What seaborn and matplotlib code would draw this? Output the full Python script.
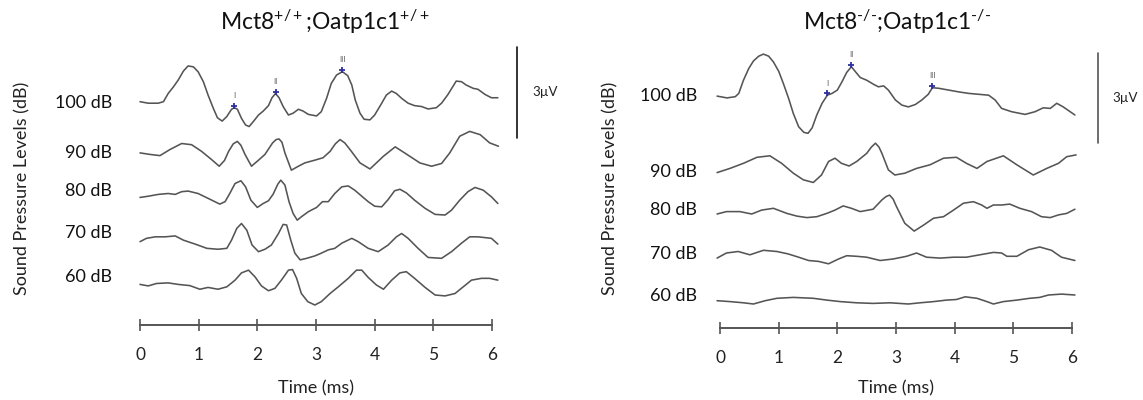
import numpy as np
import pandas as pd
import matplotlib
matplotlib.use("Agg")
import matplotlib.pyplot as plt
import seaborn as sns

sns.set_style("white")
plt.rcParams["font.family"] = ["Lato", "DejaVu Sans"]
plt.rcParams["mathtext.fontset"] = "custom"
plt.rcParams["mathtext.rm"] = "Lato"
plt.rcParams["mathtext.it"] = "Lato"

levels = ["100 dB", "90 dB", "80 dB", "70 dB", "60 dB"]

# ---- wild type (Mct8+/+;Oatp1c1+/+) ABR traces: time (ms), amplitude (uV)
t_wt_100 = [0.0, 0.14, 0.31, 0.40, 0.48, 0.57, 0.65, 0.74, 0.82, 0.91, 0.99, 1.08, 1.16, 1.25, 1.32, 1.40,
            1.48, 1.56, 1.61, 1.66, 1.73, 1.80, 1.86, 1.93, 2.02, 2.10, 2.19, 2.25, 2.31, 2.37, 2.44, 2.53,
            2.61, 2.70, 2.78, 2.87, 3.01, 3.09, 3.18, 3.26, 3.35, 3.45, 3.54, 3.61, 3.67, 3.75, 3.82, 3.92,
            4.00, 4.12, 4.20, 4.29, 4.37, 4.46, 4.57, 4.68, 4.80, 4.91, 5.05, 5.14, 5.25, 5.39, 5.48, 5.56,
            5.68, 5.76, 5.88, 5.99, 6.10]
uv_wt_100 = [0.0, -0.05, -0.05, 0.0, 0.27, 0.49, 0.71, 1.01, 1.18, 1.15, 0.99, 0.66, 0.22, -0.22, -0.53, -0.64,
             -0.49, -0.25, -0.20, -0.25, -0.55, -0.77, -0.82, -0.66, -0.44, -0.31, -0.13, 0.13, 0.27, 0.13, -0.16, -0.44,
             -0.38, -0.25, -0.31, -0.42, -0.47, -0.33, 0.11, 0.60, 0.88, 0.99, 0.86, 0.55, 0.05, -0.38, -0.58, -0.60,
             -0.44, -0.05, 0.22, 0.35, 0.27, 0.11, -0.05, -0.13, -0.16, -0.24, -0.20, -0.05, 0.24, 0.68, 0.66, 0.55,
             0.44, 0.41, 0.24, 0.13, 0.13]

t_wt_90 = [0.0, 0.17, 0.34, 0.51, 0.71, 0.88, 1.05, 1.22, 1.35, 1.44, 1.51, 1.59, 1.66, 1.72, 1.79, 1.90,
           2.02, 2.13, 2.26, 2.32, 2.37, 2.42, 2.47, 2.58, 2.70, 2.81, 2.98, 3.12, 3.24, 3.33, 3.41, 3.49,
           3.58, 3.75, 3.92, 4.15, 4.35, 4.55, 4.77, 4.97, 5.14, 5.28, 5.45, 5.62, 5.80, 5.96, 6.11]
uv_wt_90 = [0.0, -0.05, -0.09, 0.11, 0.31, 0.27, 0.05, -0.22, -0.44, -0.25, 0.05, 0.30, 0.38, 0.25, -0.05, -0.44,
            -0.24, -0.05, 0.33, 0.44, 0.46, 0.35, 0.0, -0.57, -0.44, -0.33, -0.24, -0.16, 0.05, 0.30, 0.44, 0.33,
            0.11, -0.33, -0.53, -0.11, 0.20, -0.05, -0.33, -0.44, -0.35, 0.0, 0.55, 0.71, 0.60, 0.33, 0.22]

t_wt_80 = [0.0, 0.14, 0.31, 0.48, 0.60, 0.71, 0.82, 0.99, 1.16, 1.36, 1.45, 1.53, 1.62, 1.72, 1.80, 1.89,
           2.00, 2.10, 2.19, 2.27, 2.35, 2.40, 2.47, 2.54, 2.61, 2.68, 2.75, 2.87, 3.01, 3.11, 3.21, 3.32,
           3.44, 3.55, 3.66, 3.78, 3.89, 4.00, 4.12, 4.23, 4.34, 4.43, 4.54, 4.68, 4.86, 5.03, 5.20, 5.31,
           5.45, 5.59, 5.71, 5.85, 5.99, 6.10]
uv_wt_80 = [0.0, 0.04, 0.10, 0.13, 0.10, 0.19, 0.21, 0.13, -0.03, -0.22, -0.14, 0.13, 0.46, 0.55, 0.35, -0.09,
            -0.33, -0.20, -0.11, 0.11, 0.44, 0.57, 0.41, -0.14, -0.53, -0.75, -0.64, -0.47, -0.33, -0.14, -0.14, 0.13,
            0.35, 0.38, 0.24, 0.04, -0.14, -0.29, -0.31, -0.07, 0.22, 0.27, 0.15, -0.09, -0.36, -0.56, -0.58, -0.42,
            -0.09, 0.19, 0.33, 0.24, 0.02, -0.20]

t_wt_70 = [0.0, 0.11, 0.26, 0.43, 0.60, 0.74, 0.94, 1.14, 1.33, 1.48, 1.56, 1.65, 1.73, 1.82, 1.91, 2.02,
           2.13, 2.24, 2.36, 2.44, 2.50, 2.57, 2.64, 2.73, 2.84, 2.98, 3.09, 3.21, 3.32, 3.44, 3.61, 3.72,
           3.89, 4.06, 4.23, 4.37, 4.46, 4.57, 4.74, 4.91, 5.14, 5.31, 5.48, 5.62, 5.76, 5.90, 5.99, 6.10]
uv_wt_70 = [0.0, 0.11, 0.16, 0.16, 0.19, 0.05, -0.08, -0.22, -0.25, -0.22, 0.05, 0.44, 0.60, 0.38, -0.11, -0.33,
            -0.25, -0.11, 0.27, 0.57, 0.55, 0.05, -0.38, -0.60, -0.55, -0.47, -0.38, -0.27, -0.22, -0.05, 0.11, 0.0,
            -0.22, -0.33, -0.11, 0.16, 0.27, 0.11, -0.22, -0.52, -0.55, -0.33, -0.05, 0.16, 0.16, 0.13, 0.11, -0.08]

t_wt_60 = [0.0, 0.14, 0.28, 0.48, 0.65, 0.85, 1.02, 1.16, 1.33, 1.48, 1.62, 1.73, 1.85, 1.96, 2.07, 2.19,
           2.30, 2.41, 2.53, 2.60, 2.67, 2.75, 2.86, 2.98, 3.09, 3.24, 3.38, 3.55, 3.69, 3.78, 3.89, 4.03,
           4.15, 4.29, 4.43, 4.54, 4.68, 4.86, 5.03, 5.20, 5.37, 5.51, 5.65, 5.82, 5.96, 6.10]
uv_wt_60 = [0.0, -0.05, 0.03, 0.05, 0.0, -0.04, -0.16, -0.10, -0.16, -0.08, 0.14, 0.38, 0.47, 0.25, -0.05, -0.21,
            -0.13, 0.14, 0.47, 0.49, 0.20, -0.30, -0.57, -0.68, -0.57, -0.30, -0.08, 0.20, 0.47, 0.47, 0.23, -0.02,
            -0.16, 0.14, 0.38, 0.42, 0.20, -0.10, -0.35, -0.38, -0.30, -0.08, 0.14, 0.20, 0.20, 0.14]

# ---- double knockout (Mct8-/-;Oatp1c1-/-) ABR traces
t_ko_100 = [-0.05, 0.12, 0.26, 0.32, 0.40, 0.49, 0.57, 0.66, 0.74, 0.83, 0.91, 1.00, 1.08, 1.17, 1.25, 1.34,
            1.43, 1.50, 1.57, 1.65, 1.74, 1.83, 1.91, 2.00, 2.08, 2.16, 2.24, 2.31, 2.39, 2.50, 2.62, 2.70,
            2.79, 2.87, 2.99, 3.10, 3.21, 3.33, 3.44, 3.55, 3.62, 3.73, 3.90, 4.07, 4.24, 4.41, 4.58, 4.69,
            4.80, 4.97, 5.20, 5.37, 5.51, 5.63, 5.74, 5.85, 6.05]
uv_ko_100 = [0.0, -0.06, -0.02, 0.09, 0.53, 0.92, 1.17, 1.33, 1.40, 1.33, 1.14, 0.83, 0.42, -0.08, -0.58, -1.02,
             -1.21, -1.24, -1.06, -0.63, -0.24, 0.03, 0.09, 0.20, 0.48, 0.79, 0.98, 0.81, 0.62, 0.53, 0.39, 0.31,
             0.34, 0.20, -0.13, -0.30, -0.36, -0.28, -0.13, 0.06, 0.28, 0.26, 0.20, 0.14, 0.09, 0.06, 0.03, -0.13,
             -0.41, -0.52, -0.61, -0.52, -0.39, -0.41, -0.24, -0.36, -0.63]

t_ko_90 = [-0.05, 0.17, 0.40, 0.63, 0.85, 1.05, 1.25, 1.42, 1.59, 1.73, 1.85, 1.96, 2.07, 2.20, 2.33, 2.50,
           2.58, 2.65, 2.71, 2.76, 2.87, 2.98, 3.15, 3.35, 3.58, 3.81, 4.03, 4.20, 4.38, 4.55, 4.83, 5.06,
           5.34, 5.57, 5.77, 5.91, 6.07]
uv_ko_90 = [0.0, 0.14, 0.31, 0.51, 0.56, 0.31, -0.02, -0.24, -0.33, -0.08, 0.37, 0.48, 0.31, 0.22, 0.37, 0.64,
            0.85, 0.98, 0.85, 0.64, 0.09, -0.08, -0.02, 0.14, 0.26, 0.48, 0.51, 0.31, 0.14, 0.37, 0.56, 0.26,
            -0.08, 0.14, 0.31, 0.53, 0.59]

t_ko_80 = [-0.05, 0.11, 0.34, 0.54, 0.71, 0.91, 1.14, 1.31, 1.48, 1.65, 1.82, 1.96, 2.10, 2.24, 2.39, 2.61,
           2.76, 2.83, 2.89, 2.95, 3.01, 3.15, 3.31, 3.47, 3.64, 3.81, 3.98, 4.15, 4.32, 4.46, 4.55, 4.66,
           4.80, 4.94, 5.11, 5.31, 5.48, 5.63, 5.77, 5.91, 6.05]
uv_ko_80 = [0.0, 0.08, 0.08, 0.0, 0.13, 0.19, 0.02, -0.07, -0.12, -0.09, 0.02, 0.13, 0.27, 0.19, 0.08, 0.16,
            0.47, 0.58, 0.63, 0.50, 0.24, -0.31, -0.57, -0.37, -0.14, -0.09, 0.13, 0.36, 0.41, 0.30, 0.19, 0.30,
            0.30, 0.33, 0.19, 0.08, -0.09, -0.12, -0.03, 0.02, 0.16]

t_ko_70 = [-0.05, 0.11, 0.31, 0.51, 0.74, 0.97, 1.16, 1.34, 1.51, 1.68, 1.85, 2.02, 2.16, 2.33, 2.50, 2.73,
           2.95, 3.18, 3.35, 3.52, 3.75, 3.98, 4.20, 4.43, 4.66, 4.80, 4.89, 5.06, 5.26, 5.45, 5.65, 5.82,
           6.05]
uv_ko_70 = [0.0, 0.17, 0.22, 0.11, 0.26, 0.22, 0.14, 0.03, -0.08, -0.11, -0.19, -0.03, 0.08, 0.06, 0.03, -0.08,
            -0.03, 0.06, 0.17, 0.03, 0.0, 0.03, 0.03, 0.11, 0.19, 0.17, 0.06, 0.06, 0.28, 0.37, 0.26, 0.03,
            -0.08]

t_ko_60 = [-0.05, 0.17, 0.40, 0.57, 0.77, 0.97, 1.25, 1.59, 1.82, 2.05, 2.33, 2.61, 2.90, 3.21, 3.41, 3.64,
           3.86, 4.03, 4.18, 4.38, 4.55, 4.66, 4.83, 5.06, 5.28, 5.45, 5.60, 5.82, 6.05]
uv_ko_60 = [0.0, -0.03, -0.07, -0.11, 0.0, 0.08, 0.11, 0.08, 0.02, -0.03, -0.07, -0.09, -0.07, -0.11, -0.07, -0.03,
            0.02, 0.04, 0.13, 0.08, -0.03, -0.11, -0.03, 0.02, 0.08, 0.11, 0.19, 0.22, 0.19]

# trace baselines within each panel (uV above the time axis)
baseline_wt = [7.37, 5.68, 4.21, 2.75, 1.34]
baseline_ko = [7.73, 5.18, 3.80, 2.33, 0.91]

# marked waves (I, II, III) on the 100 dB traces: latency (ms), amplitude (uV)
wave_names = ["I", "II", "III"]
wave_t_wt = [1.61, 2.31, 3.45]
wave_uv_wt = [-0.20, 0.27, 0.99]
wave_t_ko = [1.83, 2.24, 3.62]
wave_uv_ko = [0.03, 0.98, 0.28]

time_ticks = [0, 1, 2, 3, 4, 5, 6]
scale_uv = 3.0

W, H = 1143, 400
fig = plt.figure(figsize=(W / 100, H / 100), dpi=100)

trace_color = "#555555"


def fx(px):
    return px / W


def fy(py):
    return 1 - py / H


def panel(rect, ymax, traces, baselines, waves, title, title_x, label_x, label_y, ylab_x,
          bar_x, bar_top, bar_color, bar_text_x):
    ax = fig.add_axes(rect)
    rows = []
    for lev, (tt, vv), b in zip(levels, traces, baselines):
        for t, v in zip(tt, vv):
            rows.append({"time": t, "uv": v + b, "level": lev})
    df = pd.DataFrame(rows)
    sns.lineplot(data=df, x="time", y="uv", units="level", estimator=None, sort=False,
                 color=trace_color, linewidth=1.15, ax=ax, clip_on=False)
    for line in ax.get_lines():
        line.set_solid_joinstyle("round")
    wt, wv = waves
    for name, t, v in zip(wave_names, wt, wv):
        y = v + baselines[0]
        ax.plot([t], [y + 0.06], marker="+", color="#2e2e9e", markersize=5, mew=1.3,
                clip_on=False)
        ax.annotate(name, (t, y), xytext=(0, 6), textcoords="offset points",
                    ha="center", va="bottom", fontsize=5.5, color="#555555")
    ax.set_xlim(0, 6)
    ax.set_ylim(0, ymax)
    for s in ["top", "right", "left"]:
        ax.spines[s].set_visible(False)
    ax.spines["bottom"].set_color("#555555")
    ax.spines["bottom"].set_linewidth(1.4)
    ax.set_xticks(time_ticks)
    ax.set_xticklabels([str(v) for v in time_ticks])
    ax.tick_params(axis="x", bottom=True, direction="inout", length=9, width=1.2,
                   color="#555555", pad=11, labelsize=12.5, labelcolor="#222222")
    ax.set_yticks([])
    ax.set_xlabel("")
    ax.set_ylabel("")
    ax.patch.set_alpha(0)

    # scale bar (3 uV) in data units of this axis
    x_b = (fx(bar_x) - rect[0]) / rect[2] * 6
    y_top = (fy(bar_top) - rect[1]) / rect[3] * ymax
    ax.plot([x_b, x_b], [y_top - scale_uv, y_top], color=bar_color, linewidth=1.2,
            clip_on=False)
    ax.text(bar_text_x, y_top - scale_uv / 2, "3µV", transform=ax.transData,
            ha="left", va="center", fontsize=9.5, color="#222222")

    fig.text(fx(title_x), fy(22), title, ha="center", va="center", fontsize=16.5,
             color="#111111")
    for lev, ly in zip(levels, label_y):
        fig.text(fx(label_x), fy(ly), lev, ha="right", va="center", fontsize=13,
                 color="#111111")
    fig.text(fx(ylab_x), fy(188), "Sound Pressure Levels (dB)", rotation=90,
             ha="center", va="center", fontsize=13, color="#222222")
    fig.text(fx((rect[0] * W) + rect[2] * W / 2), fy(388), "Time (ms)", ha="center",
             va="center", fontsize=13, color="#222222")
    return ax


rect_wt = [fx(140), fy(325), (492 - 140) / W, (325 - 40) / H]
rect_ko = [fx(720), fy(328), (1072 - 720) / W, (328 - 40) / H]

panel(rect_wt, 285 / 30.3,
      [(t_wt_100, uv_wt_100), (t_wt_90, uv_wt_90), (t_wt_80, uv_wt_80),
       (t_wt_70, uv_wt_70), (t_wt_60, uv_wt_60)],
      baseline_wt, (wave_t_wt, wave_uv_wt),
      "Mct8$^{+/+}$;Oatp1c1$^{+/+}$", 325, 112, [103, 153, 191, 233, 277], 22,
      517, 47, "#111111", 6.68)

panel(rect_ko, 288 / 30.0,
      [(t_ko_100, uv_ko_100), (t_ko_90, uv_ko_90), (t_ko_80, uv_ko_80),
       (t_ko_70, uv_ko_70), (t_ko_60, uv_ko_60)],
      baseline_ko, (wave_t_ko, wave_uv_ko),
      "Mct8$^{\u2010/\u2010}$;Oatp1c1$^{\u2010/\u2010}$", 897, 697, [96, 172, 210, 254, 296], 610,
      1098, 53, "#555555", 6.68)

fig.savefig("out.png", dpi=100)
